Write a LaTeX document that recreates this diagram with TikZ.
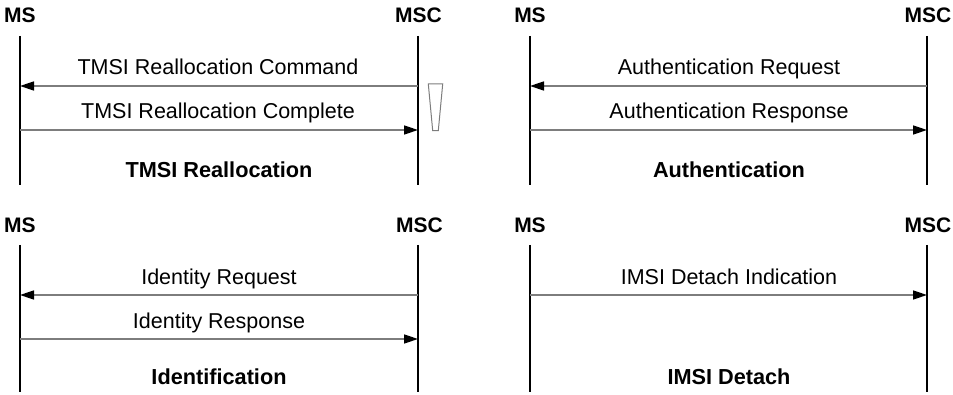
\documentclass[tikz,border=0pt]{standalone}
\usepackage{fontspec}
\setmainfont{Liberation Sans}
\usetikzlibrary{arrows.meta}
\definecolor{msgline}{RGB}{125,125,125}
\tikzset{
  lifeline/.style={line width=2.2pt, black},
  msg/.style={line width=1.6pt, msgline, -{Triangle[length=14pt,width=9pt,black]}},
  hdr/.style={font=\fontsize{21}{25}\selectfont\bfseries, anchor=base, inner sep=0pt},
  lbl/.style={font=\fontsize{21.5}{25}\selectfont, anchor=base, inner sep=0pt},
  ttl/.style={font=\fontsize{21.7}{25}\selectfont\bfseries, anchor=base, inner sep=0pt},
  timer/.style={line width=1pt, msgline}
}
\begin{document}
\begin{tikzpicture}[x=1pt,y=1pt]
\useasboundingbox (0,0) rectangle (953,395);
% ---------- Panel A: TMSI Reallocation ----------
\node[hdr] (aMS) at (20,372.3) {MS};
\node[hdr] (aMSC) at (418.5,372.3) {MSC};
\coordinate (aMSt) at (20,359); \coordinate (aMSb) at (20,210);
\coordinate (aMSCt) at (418,359); \coordinate (aMSCb) at (418,210);
\draw[lifeline] (aMSt) -- (aMSb);
\draw[lifeline] (aMSCt) -- (aMSCb);
\coordinate (a1s) at (418,309); \coordinate (a1e) at (20,309);
\coordinate (a2s) at (20,265); \coordinate (a2e) at (418,265);
\draw[msg] (a1s) -- (a1e);
\draw[msg] (a2s) -- (a2e);
\node[lbl] (a1l) at (218,320) {TMSI Reallocation Command};
\node[lbl] (a2l) at (218,276) {TMSI Reallocation Complete};
\node[ttl] (at) at (219,217.7) {TMSI Reallocation};
\draw[timer] (428.3,311) -- (442.7,311) -- (438.3,264.3) -- (432.7,264.3) -- cycle;
% ---------- Panel B: Authentication ----------
\node[hdr] (bMS) at (530,372.3) {MS};
\node[hdr] (bMSC) at (928,372.3) {MSC};
\coordinate (bMSt) at (530,359); \coordinate (bMSb) at (530,210);
\coordinate (bMSCt) at (927,359); \coordinate (bMSCb) at (927,210);
\draw[lifeline] (bMSt) -- (bMSb);
\draw[lifeline] (bMSCt) -- (bMSCb);
\coordinate (b1s) at (927,309); \coordinate (b1e) at (530,309);
\coordinate (b2s) at (530,265); \coordinate (b2e) at (927,265);
\draw[msg] (b1s) -- (b1e);
\draw[msg] (b2s) -- (b2e);
\node[lbl] (b1l) at (729,320) {Authentication Request};
\node[lbl] (b2l) at (729,276) {Authentication Response};
\node[ttl] (bt) at (729,217.7) {Authentication};
% ---------- Panel C: Identification ----------
\node[hdr] (cMS) at (20,162.7) {MS};
\node[hdr] (cMSC) at (419.5,162.7) {MSC};
\coordinate (cMSt) at (20,150); \coordinate (cMSb) at (20,3);
\coordinate (cMSCt) at (418,150); \coordinate (cMSCb) at (418,3);
\draw[lifeline] (cMSt) -- (cMSb);
\draw[lifeline] (cMSCt) -- (cMSCb);
\coordinate (c1s) at (418,100); \coordinate (c1e) at (20,100);
\coordinate (c2s) at (20,56); \coordinate (c2e) at (418,56);
\draw[msg] (c1s) -- (c1e);
\draw[msg] (c2s) -- (c2e);
\node[lbl] (c1l) at (219,110) {Identity Request};
\node[lbl] (c2l) at (219,66) {Identity Response};
\node[ttl] (ct) at (219,10) {Identification};
% ---------- Panel D: IMSI Detach ----------
\node[hdr] (dMS) at (530,162.7) {MS};
\node[hdr] (dMSC) at (928,162.7) {MSC};
\coordinate (dMSt) at (530,150); \coordinate (dMSb) at (530,3);
\coordinate (dMSCt) at (927,150); \coordinate (dMSCb) at (927,3);
\draw[lifeline] (dMSt) -- (dMSb);
\draw[lifeline] (dMSCt) -- (dMSCb);
\coordinate (d1s) at (530,100); \coordinate (d1e) at (927,100);
\draw[msg] (d1s) -- (d1e);
\node[lbl] (d1l) at (729,110) {IMSI Detach Indication};
\node[ttl] (dt) at (729,10) {IMSI Detach};
\end{tikzpicture}
\end{document}
